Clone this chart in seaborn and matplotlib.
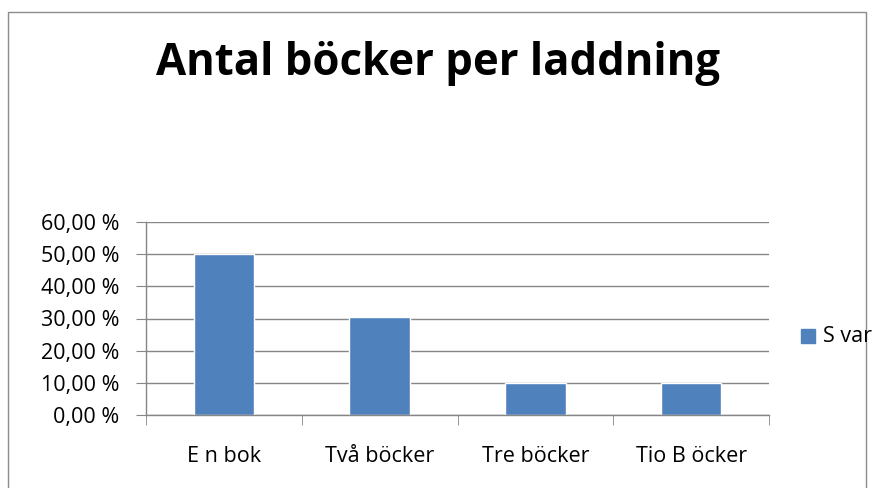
import matplotlib
matplotlib.use("Agg")
import matplotlib.pyplot as plt
import seaborn as sns
import pandas as pd
from matplotlib.patches import Rectangle

categories = ["E n bok", "Två böcker", "Tre böcker", "Tio B öcker"]
values = [50.0, 30.5, 10.0, 10.0]
yticks = [0, 10, 20, 30, 40, 50, 60]
series_name = "S var"
title = "Antal böcker per laddning"

sns.set_style("white")
plt.rcParams['font.family'] = ['Open Sans', 'DejaVu Sans']
plt.rcParams['text.color'] = 'black'
plt.rcParams['xtick.color'] = 'black'
plt.rcParams['ytick.color'] = 'black'

df = pd.DataFrame({"kategori": categories, "andel": values})

fig = plt.figure(figsize=(8.73, 4.88), dpi=100)
ax = fig.add_axes([146/873, 1-415/488, (769-146)/873, (415-222)/488])

sns.barplot(data=df, x="kategori", y="andel", color="#4F81BD", saturation=1,
            width=0.39, ax=ax)

grid = "#868686"
fs = 15.5
ax.set_ylim(0, 60)
ax.set_xlim(-0.5, len(categories)-0.5)
ax.set_yticks(yticks)
ax.set_yticklabels([f"{t},00 %" for t in yticks], fontsize=fs)
ax.yaxis.grid(True, color=grid, linewidth=1)
ax.set_axisbelow(True)
ax.set_xticks(range(len(categories)))
ax.set_xticklabels(categories, fontsize=fs)
ax.set_xlabel("")
ax.set_ylabel("")
for s in ["top", "right"]:
    ax.spines[s].set_visible(False)
for s in ["left", "bottom"]:
    ax.spines[s].set_color(grid)
    ax.spines[s].set_linewidth(1)
ax.tick_params(axis="x", length=0, pad=22)
ax.tick_params(axis="y", length=7, color=grid, pad=12, left=True)
# category boundary ticks
ax.set_xticks([i - 0.5 for i in range(len(categories)+1)], minor=True)
ax.tick_params(axis="x", which="minor", length=7, color=grid, bottom=True)

fig.text(438/873, 1-63/488, title, ha="center", va="center", fontsize=31.5,
         fontweight="bold", color="black")

# legend
fig.patches.append(Rectangle((801/873, 1-343/488), 14/873, 14/488,
                             transform=fig.transFigure, color="#4F81BD"))
fig.text(823/873, 1-336/488, series_name, ha="left", va="center", fontsize=fs)

# chart frame
fig.patches.append(Rectangle((8/873, -0.1), (866-8)/873, 0.1+1-12/488,
                             transform=fig.transFigure, fill=False,
                             edgecolor="#8c8c8c", linewidth=1))

fig.savefig("out.png", dpi=100)
